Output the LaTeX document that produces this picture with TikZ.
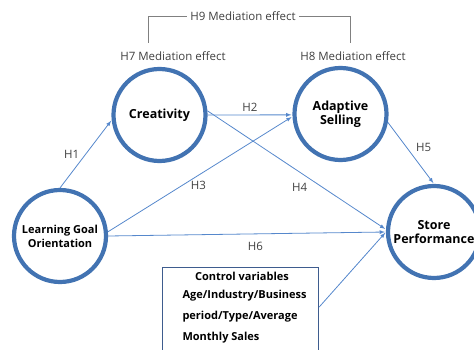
\documentclass[tikz,border=0pt]{standalone}
\usepackage{fontspec}
\setmainfont{Open Sans}
\definecolor{ringblue}{RGB}{66,115,178}
\definecolor{pathblue}{RGB}{86,136,204}
\definecolor{boxblue}{RGB}{62,92,142}
\begin{document}
\begin{tikzpicture}[
    x=1pt, y=-1pt,
    construct/.style={circle, draw=ringblue, line width=4.2pt, minimum size=92pt, inner sep=0pt, font=\fontsize{12.5}{14}\selectfont\bfseries, align=center},
    path/.style={->, >=latex, pathblue, line width=0.8pt, shorten >=1pt},
    hyp/.style={font=\fontsize{11.5}{14}\selectfont, text=black!75},
    bracket/.style={gray, line width=0.8pt},
]
\useasboundingbox (0,0) rectangle (474,350);
\node[construct] (cre) at (159.5,115) {Creativity};
\node[construct] (ads) at (340.5,114) {Adaptive\\Selling};
\node[construct, font=\fontsize{11}{14}\selectfont\bfseries] (lgo) at (60,236) {Learning Goal\\Orientation};
\node[construct] (stp) at (434,232) {Store\\Performance};
\node[draw=boxblue, line width=1.2pt, minimum width=156pt, minimum height=100pt, anchor=north west] (ctl) at (162,267) {};
\node[font=\fontsize{11}{13}\selectfont\bfseries] (ctlhead) at (242,276) {Control variables};
\node[font=\fontsize{11}{21}\selectfont\bfseries, align=left, anchor=north west] (ctlvars) at (179,287) {Age/Industry/Business\\period/Type/Average\\Monthly Sales};
% mediation labels
\node[hyp] (h7) at (173,56) {H7 Mediation effect};
\node[hyp] (h8) at (353,56) {H8 Mediation effect};
\node[hyp] (h9) at (243,16) {H9 Mediation effect};
\coordinate (bl) at (148,43);
\coordinate (br) at (350,43);
\draw[bracket] (bl) |- (h9.west);
\draw[bracket] (br) |- (h9.east);
% paths
\draw[path] (lgo.north) -- (cre.186) node[hyp, pos=0.5, left=3pt] (h1) {H1};
\draw[path] (cre.0) -- (ads.181) node[hyp, midway, above] (h2) {H2};
\draw[path] (lgo.5) -- (ads.183) node[hyp, pos=0.49, below=2pt] (h3) {H3};
\draw[path] (cre.5) -- (stp.177) node[hyp, pos=0.58, below left=0pt] (h4) {H4};
\draw[path] (ads.-10) -- (stp.90) node[hyp, pos=0.4, right=6pt] (h5) {H5};
\draw[path] (lgo.0) -- (stp.180) node[hyp, pos=0.53, below=5pt] (h6) {H6};
\draw[path] (ctl.north east) ++(0,40) coordinate (ctlout) (ctlout) -- (stp.180);
\end{tikzpicture}
\end{document}
